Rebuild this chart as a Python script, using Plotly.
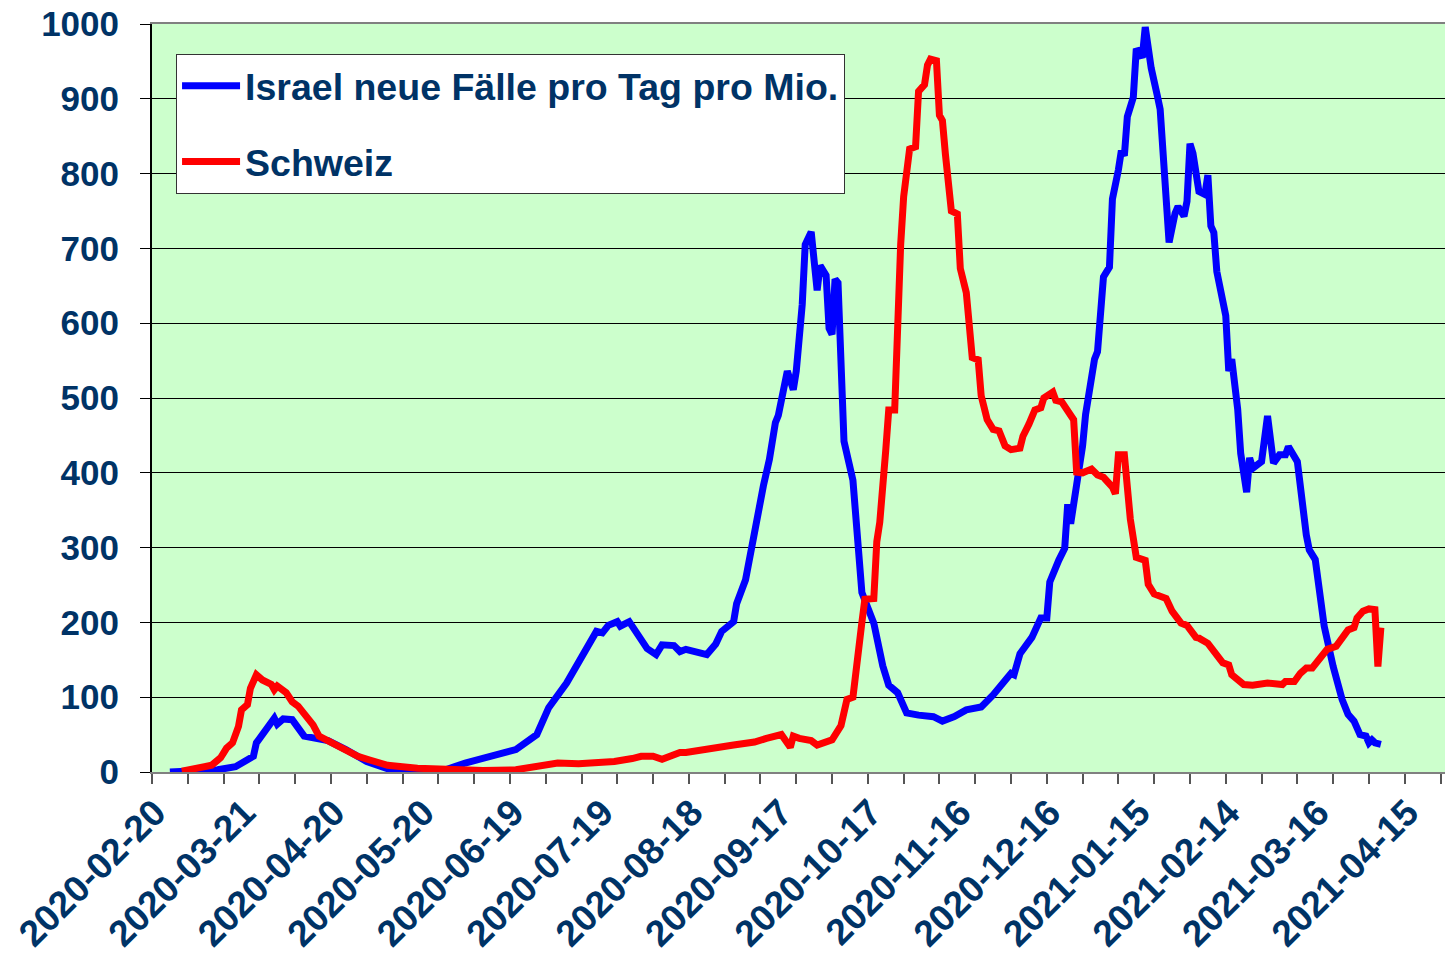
import pandas as pd
import plotly.graph_objects as go

START = "2020-02-20"

# Israel: days since 2020-02-20, new cases per day per million
israel_day = [5, 21, 27, 32, 33, 34, 36, 40, 41, 43, 46, 50, 54, 58, 64, 71, 79, 96, 104, 111,
              116, 121, 128, 132, 138, 144, 148, 150, 152, 155, 156, 159, 163, 165, 168, 170,
              174, 176, 178, 182, 185, 188, 190, 194, 195, 198, 201, 204, 206, 208, 209, 212,
              214, 215, 217, 218, 220, 222, 223, 225, 226, 227, 228, 229, 231, 234, 237, 241,
              244, 246, 249, 252, 256, 261, 264, 268, 272, 277, 281, 284, 287, 288, 290, 294,
              297, 299, 300, 303, 305, 306, 307, 309, 311, 312, 315, 316, 318, 320, 321, 323,
              324, 325, 326, 328, 329, 331, 332, 334, 335, 336, 337, 339, 340, 342, 343, 345,
              346, 347, 348, 350, 352, 353, 354, 355, 356, 359, 360, 361, 363, 364, 366, 367,
              368, 371, 373, 375, 377, 379, 380, 383, 384, 386, 387, 389, 392, 393, 395, 398,
              400, 402, 404, 406, 407, 408, 409, 411]
israel_val = [0, 3, 7, 17, 21, 39, 50, 72, 64, 71, 70, 48, 45, 42, 30, 14, 3, 1, 12, 19,
              23, 30, 50, 86, 119, 160, 188, 186, 196, 201, 195, 201, 178, 165, 157, 170,
              169, 161, 164, 159, 157, 171, 188, 201, 225, 257, 324, 383, 418, 467, 477, 536,
              511, 536, 625, 705, 722, 644, 677, 664, 593, 585, 659, 654, 442, 390, 240, 199,
              142, 116, 106, 79, 76, 74, 68, 74, 83, 87, 103, 116, 132, 130, 158, 180,
              206, 206, 254, 283, 299, 358, 332, 384, 436, 478, 552, 562, 662, 675, 766, 805,
              831, 824, 876, 902, 967, 955, 996, 941, 918, 905, 886, 766, 708, 747, 756, 743,
              763, 840, 827, 776, 772, 798, 730, 721, 669, 610, 536, 552, 485, 426, 374, 420,
              406, 415, 476, 413, 424, 424, 435, 415, 380, 317, 297, 284, 195, 173, 141, 97,
              77, 68, 50, 48, 39, 43, 39, 37]

# Schweiz: days since 2020-02-20, new cases per day per million
swiss_day = [9, 15, 19, 22, 24, 26, 28, 29, 31, 32, 34, 36, 39, 40, 41, 44, 46, 48, 50, 53,
             55, 59, 63, 68, 72, 78, 88, 99, 110, 121, 131, 135, 142, 149, 154, 160, 163, 167,
             170, 176, 178, 194, 201, 205, 210, 213, 214, 216, 220, 222, 226, 227, 230, 232,
             234, 235, 236, 237, 238, 241, 242, 243, 245, 246, 248, 249, 250, 251, 253, 255,
             256, 258, 259, 260, 262, 263, 264, 265, 267, 269, 270, 272, 274, 276, 277, 278,
             279, 281, 283, 285, 287, 290, 291, 293, 295, 297, 298, 301, 302, 304, 306, 308,
             309, 311, 314, 316, 318, 321, 322, 323, 325, 326, 327, 329, 332, 333, 335, 339,
             341, 344, 346, 349, 350, 353, 356, 358, 360, 361, 365, 368, 373, 376, 378, 379,
             382, 384, 386, 388, 390, 393, 396, 398, 400, 402, 403, 405, 407, 409, 410, 411]
swiss_val = [1, 5, 9, 19, 32, 39, 61, 83, 90, 112, 130, 123, 117, 110, 115, 106, 94, 88, 77, 63,
             48, 39, 30, 21, 16, 9, 5, 3, 2, 3, 8, 12, 11, 12, 14, 18, 21, 21,
             17, 26, 26, 36, 40, 45, 50, 33, 48, 45, 42, 36, 43, 43, 62, 97,
             100, 140, 165, 200, 231, 232, 308, 334, 430, 484, 484, 622, 705, 769, 833, 836,
             910, 919, 945, 953, 951, 878, 871, 826, 750, 746, 673, 641, 554, 551, 503, 487,
             471, 458, 456, 436, 431, 433, 449, 465, 484, 487, 500, 508, 497, 495, 484, 471,
             401, 400, 405, 397, 394, 381, 372, 424, 424, 374, 338, 287, 283, 251, 238, 232,
             215, 199, 196, 180, 179, 172, 157, 146, 143, 130, 117, 116, 119, 119, 117, 121,
             121, 132, 139, 139, 148, 164, 168, 181, 190, 193, 206, 215, 218, 217, 141, 193]

tick_labels = ["2020-02-20", "2020-03-21", "2020-04-20", "2020-05-20", "2020-06-19",
               "2020-07-19", "2020-08-18", "2020-09-17", "2020-10-17", "2020-11-16",
               "2020-12-16", "2021-01-15", "2021-02-14", "2021-03-16", "2021-04-15"]

start = pd.Timestamp(START)
israel_x = start + pd.to_timedelta(israel_day, unit="D")
swiss_x = start + pd.to_timedelta(swiss_day, unit="D")

NAVY = "#003366"
FONT = "Arial, 'Liberation Sans', sans-serif"

fig = go.Figure()
fig.add_trace(go.Scatter(x=israel_x, y=israel_val, mode="lines",
                         name="Israel neue Fälle pro Tag pro Mio.", legendgroup="a",
                         line=dict(color="#0000FF", width=7, shape="linear")))
fig.add_trace(go.Scatter(x=swiss_x, y=swiss_val, mode="lines",
                         name="Schweiz", legendgroup="b",
                         line=dict(color="#FF0000", width=7, shape="linear")))

fig.update_layout(
    width=1445, height=955,
    margin=dict(l=152, r=0, t=24, b=183, autoexpand=False),
    paper_bgcolor="white",
    plot_bgcolor="#CCFFCC",
    font=dict(family=FONT, color=NAVY, size=35),
    showlegend=True,
    legend=dict(
        x=0.0186, y=0.96, xanchor="left", yanchor="top",
        bgcolor="white", bordercolor="#333333", borderwidth=1,
        font=dict(family=FONT, size=37.5, color=NAVY, weight="bold"),
        tracegroupgap=24, itemwidth=58,
    ),
)

fig.update_xaxes(
    type="date",
    automargin=False,
    range=["2020-02-19", "2021-04-27 12:00"],
    tickmode="array",
    tickvals=list(pd.to_datetime(tick_labels)),
    ticktext=tick_labels,
    tickangle=-45,
    ticks="",
    tickfont=dict(family=FONT, size=37, color=NAVY, weight="bold"),
    showgrid=False,
    showline=True, linecolor="#808080", linewidth=2, mirror=True,
    minor=dict(ticks="outside", ticklen=10, tickcolor="#555555", tickwidth=2,
               tick0="2020-02-19", dtick=12 * 86400000, showgrid=False),
    ticklabelstandoff=2,
    ticklabeloverflow="allow",
)
fig.update_yaxes(
    automargin=False,
    range=[0, 1000],
    tickmode="linear", tick0=0, dtick=100,
    ticks="outside", ticklen=10, tickcolor="#000000", tickwidth=1,
    tickfont=dict(family=FONT, size=35, color=NAVY, weight="bold"),
    showgrid=True, gridcolor="#000000", gridwidth=1,
    showline=True, linecolor="#000000", linewidth=2,
    zeroline=False,
    ticklabelstandoff=14,
    ticklabeloverflow="allow",
)

fig.write_html(
    "out.html",
    config={"displayModeBar": False},
    post_script="document.body.style.margin='0';document.body.style.overflow='hidden';",
)
